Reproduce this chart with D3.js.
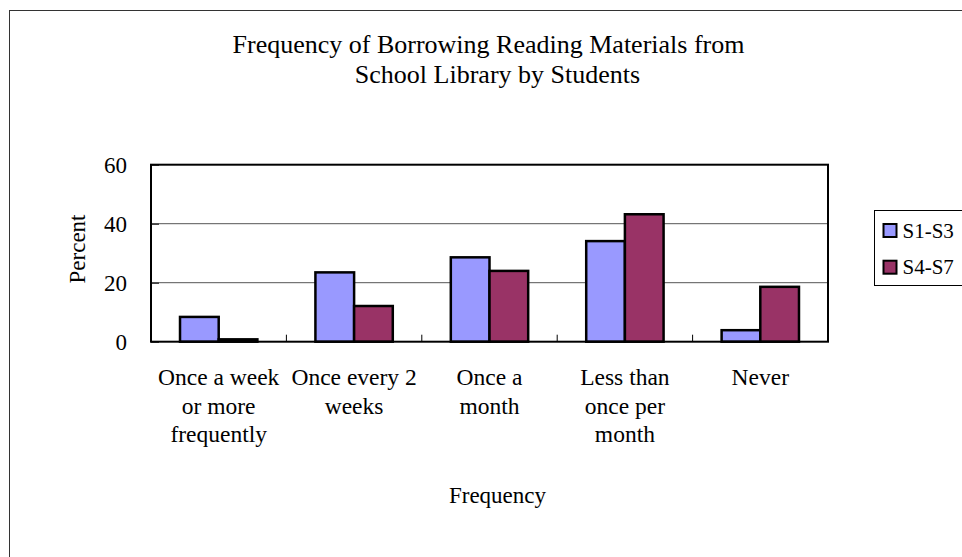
<!DOCTYPE html>
<html>
<head>
<meta charset="utf-8">
<script src="https://cdn.jsdelivr.net/npm/d3@7"></script>
<style>
  html, body { margin: 0; padding: 0; background: #fff; }
</style>
</head>
<body>
<svg id="chart" width="962" height="557"></svg>
<script>
var categories = [
  ['Once a week', 'or more', 'frequently'],
  ['Once every 2', 'weeks'],
  ['Once a', 'month'],
  ['Less than', 'once per', 'month'],
  ['Never'],
]
var seriesNames = ['S1-S3', 'S4-S7']
var seriesColors = ['#9999ff', '#993366']
var s1Values = [8.4, 23.5, 28.6, 34.1, 3.9]
var s4Values = [0.8, 12.1, 24.0, 43.2, 18.6]
var yTicks = [0, 20, 40, 60]
var titleLines = ['Frequency of Borrowing Reading Materials from', 'School Library by Students']

;(function () {
  var FONT = "'Liberation Serif', 'Tinos', 'Times New Roman', Times, 'DejaVu Serif', serif"
  var svg = d3.select('#chart').attr('font-family', FONT)
  var margin = { top: 164.7, left: 151, right: 828, bottom: 341.7 }

  // outer chart border (extends past the window on right and bottom)
  svg
    .append('rect')
    .attr('x', 9.5)
    .attr('y', 10.5)
    .attr('width', 1000)
    .attr('height', 600)
    .attr('fill', 'none')
    .attr('stroke', '#333')
    .attr('stroke-width', 1)

  // title
  var titleX = [488.5, 497.5]
  svg
    .selectAll('.title')
    .data(titleLines)
    .enter()
    .append('text')
    .attr('class', 'title')
    .attr('text-anchor', 'middle')
    .attr('font-family', FONT)
    .attr('x', function (d, i) {
      return titleX[i]
    })
    .attr('y', function (d, i) {
      return 52.5 + i * 30.5
    })
    .attr('font-size', 26)
    .text(function (d) {
      return d
    })

  var x = d3
    .scaleBand()
    .domain(d3.range(categories.length))
    .range([margin.left, margin.right])
    .paddingInner(0)
    .paddingOuter(0)

  var xs = d3
    .scaleBand()
    .domain(d3.range(seriesNames.length))
    .range([0, x.bandwidth()])
    .paddingInner(0)
    .paddingOuter(0.75)

  var y = d3.scaleLinear().domain([0, 60]).range([margin.bottom, margin.top])

  // gridlines
  svg
    .selectAll('.grid')
    .data(yTicks.filter(function (t) {
      return t > 0 && t < 60
    }))
    .enter()
    .append('line')
    .attr('x1', margin.left)
    .attr('x2', margin.right)
    .attr('y1', function (d) {
      return y(d)
    })
    .attr('y2', function (d) {
      return y(d)
    })
    .attr('stroke', '#555')
    .attr('stroke-width', 1)

  // y axis (inside ticks)
  var yAxis = svg
    .append('g')
    .attr('transform', 'translate(' + margin.left + ',0)')
    .call(d3.axisRight(y).tickValues(yTicks).tickSize(8).tickFormat(''))
  yAxis.select('.domain').remove()
  yAxis.selectAll('line').attr('stroke', '#000')

  svg
    .selectAll('.ylabel')
    .data(yTicks)
    .enter()
    .append('text')
    .attr('text-anchor', 'end')
    .attr('font-family', FONT)
    .attr('x', 127)
    .attr('y', function (d) {
      return y(d)
    })
    .attr('dy', '0.34em')
    .attr('font-size', 23)
    .text(function (d) {
      return d
    })

  // bars
  var allSeries = [s1Values, s4Values]
  allSeries.forEach(function (vals, si) {
    svg
      .append('g')
      .selectAll('rect')
      .data(vals)
      .enter()
      .append('rect')
      .attr('x', function (d, i) {
        return x(i) + xs(si)
      })
      .attr('y', function (d) {
        return y(d)
      })
      .attr('width', xs.bandwidth())
      .attr('height', function (d) {
        return y(0) - y(d)
      })
      .attr('fill', seriesColors[si])
      .attr('stroke', '#000')
      .attr('stroke-width', 2.5)
  })

  // x category ticks (inside)
  svg
    .selectAll('.xtick')
    .data(d3.range(1, categories.length))
    .enter()
    .append('line')
    .attr('x1', function (d) {
      return x(d)
    })
    .attr('x2', function (d) {
      return x(d)
    })
    .attr('y1', margin.bottom)
    .attr('y2', margin.bottom - 7)
    .attr('stroke', '#000')
    .attr('stroke-width', 1)

  // plot border
  svg
    .append('rect')
    .attr('x', margin.left)
    .attr('y', margin.top)
    .attr('width', margin.right - margin.left)
    .attr('height', margin.bottom - margin.top)
    .attr('fill', 'none')
    .attr('stroke', '#000')
    .attr('stroke-width', 2)

  // category labels
  categories.forEach(function (lines, i) {
    svg
      .append('g')
      .selectAll('text')
      .data(lines)
      .enter()
      .append('text')
      .attr('text-anchor', 'middle')
      .attr('font-family', FONT)
      .attr('x', x(i) + x.bandwidth() / 2)
      .attr('y', function (d, j) {
        return 385 + j * 28.5
      })
      .attr('font-size', 23.5)
      .text(function (d) {
        return d
      })
  })

  // axis titles
  svg
    .append('text')
    .attr('text-anchor', 'middle')
    .attr('font-family', FONT)
    .attr('x', 497.5)
    .attr('y', 503.3)
    .attr('font-size', 23)
    .text('Frequency')

  svg
    .append('text')
    .attr('text-anchor', 'middle')
    .attr('font-family', FONT)
    .attr('transform', 'translate(85,249) rotate(-90)')
    .attr('font-size', 23)
    .text('Percent')

  // legend
  var legend = svg.append('g')
  legend
    .append('rect')
    .attr('x', 874.5)
    .attr('y', 210.5)
    .attr('width', 200)
    .attr('height', 75)
    .attr('fill', '#fff')
    .attr('stroke', '#000')
    .attr('stroke-width', 1)

  var items = legend
    .selectAll('.item')
    .data(seriesNames)
    .enter()
    .append('g')
    .attr('transform', function (d, i) {
      return 'translate(0,' + (224 + i * 36.7) + ')'
    })
  items
    .append('rect')
    .attr('x', 883.5)
    .attr('y', 0)
    .attr('width', 13)
    .attr('height', 13)
    .attr('fill', function (d, i) {
      return seriesColors[i]
    })
    .attr('stroke', '#000')
    .attr('stroke-width', 2)
  items
    .append('text')
    .attr('font-family', FONT)
    .attr('x', 902.5)
    .attr('y', 13.5)
    .attr('font-size', 21)
    .text(function (d) {
      return d
    })
})()
</script>
</body>
</html>
